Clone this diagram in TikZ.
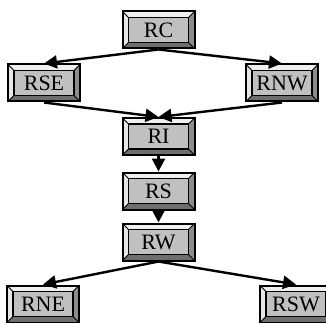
\documentclass[tikz,border=0pt]{standalone}
\usepackage{fontspec}
\setmainfont{Liberation Serif}
\usetikzlibrary{arrows.meta}
\definecolor{boxgray}{HTML}{C0C0C0}
\definecolor{bevlight}{HTML}{E6E6E6}
\definecolor{bevtop}{HTML}{F0F0F0}
\definecolor{bevdark}{HTML}{6E6E6E}
\definecolor{bevright}{HTML}{8C8C8C}
\tikzset{
  bevbox/.style={rectangle, minimum width=72pt, minimum height=37pt, inner sep=0pt,
    fill=boxgray, draw=black, line width=2pt, font=\fontsize{22}{22}\selectfont,
    path picture={
      \coordinate (pnw) at (path picture bounding box.north west);
      \coordinate (pne) at (path picture bounding box.north east);
      \coordinate (psw) at (path picture bounding box.south west);
      \coordinate (pse) at (path picture bounding box.south east);
      \coordinate (inw) at ([shift={(6pt,-6pt)}]pnw);
      \coordinate (ine) at ([shift={(-6pt,-6pt)}]pne);
      \coordinate (isw) at ([shift={(6pt,6pt)}]psw);
      \coordinate (ise) at ([shift={(-6pt,6pt)}]pse);
      \fill[bevtop] (pnw) -- (pne) -- (ine) -- (inw) -- cycle;
      \fill[bevlight] (pnw) -- (inw) -- (isw) -- (psw) -- cycle;
      \fill[bevdark] (psw) -- (isw) -- (ise) -- (pse) -- cycle;
      \fill[bevright] (pne) -- (pse) -- (ise) -- (ine) -- cycle;
      \draw[line width=0.8pt] (pnw) -- (inw) (pne) -- (ine) (psw) -- (isw) (pse) -- (ise);
      \draw[line width=1.5pt, fill=boxgray] (inw) rectangle (ise);
    }},
  edge/.style={line width=2.4pt, -{Triangle[length=13pt, width=13pt]}}
}
\begin{document}
\begin{tikzpicture}[x=1pt,y=1pt]
\useasboundingbox (0,0) rectangle (326,-323);
\node[bevbox] (RC)  at (158.5,-30)  {RC};
\node[bevbox] (RSE) at (44,-83)     {RSE};
\node[bevbox] (RNW) at (282,-83)    {RNW};
\node[bevbox] (RI)  at (158.5,-136.5) {RI};
\node[bevbox] (RS)  at (158.5,-191) {RS};
\node[bevbox] (RW)  at (158.5,-242) {RW};
\node[bevbox] (RNE) at (43,-304)    {RNE};
\node[bevbox] (RSW) at (296,-304)   {RSW};
\draw[edge] (RC.south) -- (RSE.north);
\draw[edge] (RC.south) -- (RNW.north);
\draw[edge] (RSE.south) -- (RI.north);
\draw[edge] (RNW.south) -- (RI.north);
\draw[edge] (RI.south) -- (RS.north);
\draw[edge] (RS.south) -- (RW.north);
\draw[edge] (RW.south) -- (RNE.north);
\draw[edge] (RW.south) -- (RSW.north);
\end{tikzpicture}
\end{document}
